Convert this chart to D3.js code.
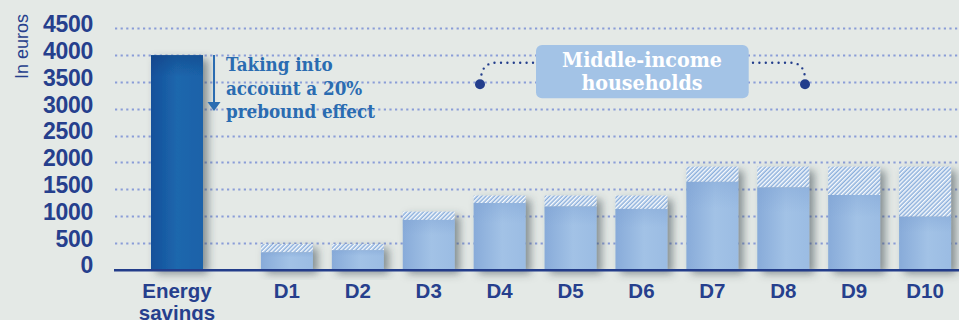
<!DOCTYPE html>
<html>
<head>
<meta charset="utf-8">
<script src="https://cdn.jsdelivr.net/npm/d3@7"></script>
<style>
  html, body { margin: 0; padding: 0; background: #e4e9e6; }
  svg { display: block; }
</style>
</head>
<body>
<svg id="chart" width="959" height="320"></svg>
<script>
// ---- data ----
const categories = ["D1", "D2", "D3", "D4", "D5", "D6", "D7", "D8", "D9", "D10"];
const savingsWithPrebound = [320, 360, 925, 1240, 1175, 1130, 1635, 1530, 1390, 985];
const savingsTotal = [475, 475, 1080, 1380, 1380, 1380, 1920, 1920, 1920, 1920];
const energyLabel = ["Energy", "savings"];
const energySavings = [4000];
const yTickValues = [0, 500, 1000, 1500, 2000, 2500, 3000, 3500, 4000, 4500];
const yAxisTitle = "In euros";
const noteLines = ["Taking into", "account a 20%", "prebound effect"];
const groupLines = ["Middle-income", "households"];

// ---- setup ----
const svg = d3.select("#chart");
const W = 959, H = 320;
const navy = "#263f8d";

svg.append("rect").attr("width", W).attr("height", H).attr("fill", "#e4e9e6");

const defs = svg.append("defs");
const gLight = defs.append("linearGradient").attr("id", "gLight").attr("x1", 0).attr("x2", 1).attr("y1", 0).attr("y2", 0);
gLight.append("stop").attr("offset", "0%").attr("stop-color", "#88abd9");
gLight.append("stop").attr("offset", "55%").attr("stop-color", "#a2c2e6");
gLight.append("stop").attr("offset", "100%").attr("stop-color", "#9bbce3");
const gLightV = defs.append("linearGradient").attr("id", "gLightV").attr("x1", 0).attr("x2", 0).attr("y1", 0).attr("y2", 1);
gLightV.append("stop").attr("offset", "0%").attr("stop-color", "#7fa3d4").attr("stop-opacity", 0.4);
gLightV.append("stop").attr("offset", "30%").attr("stop-color", "#7fa3d4").attr("stop-opacity", 0);

const gDark = defs.append("linearGradient").attr("id", "gDark").attr("x1", 0).attr("x2", 1).attr("y1", 0).attr("y2", 0);
gDark.append("stop").attr("offset", "0%").attr("stop-color", "#14509a");
gDark.append("stop").attr("offset", "50%").attr("stop-color", "#1d67ad");
gDark.append("stop").attr("offset", "100%").attr("stop-color", "#1a62a9");
const gDarkV = defs.append("linearGradient").attr("id", "gDarkV").attr("x1", 0).attr("x2", 0).attr("y1", 0).attr("y2", 1);
gDarkV.append("stop").attr("offset", "0%").attr("stop-color", "#0f3f80").attr("stop-opacity", 0.5);
gDarkV.append("stop").attr("offset", "10%").attr("stop-color", "#0f3f80").attr("stop-opacity", 0);

const pat = defs.append("pattern").attr("id", "hatch").attr("patternUnits", "userSpaceOnUse")
  .attr("width", 3).attr("height", 3).attr("patternTransform", "rotate(45)");
pat.append("rect").attr("width", 3).attr("height", 3).attr("fill", "#8bafdc");
pat.append("line").attr("x1", 0.75).attr("y1", 0).attr("x2", 0.75).attr("y2", 3)
  .attr("stroke", "#ffffff").attr("stroke-width", 1.4);

const shadow = defs.append("filter").attr("id", "shadow").attr("x", "-30%").attr("y", "-30%").attr("width", "170%").attr("height", "170%");
shadow.append("feDropShadow").attr("dx", 5).attr("dy", 4).attr("stdDeviation", 4.5)
  .attr("flood-color", "#38424c").attr("flood-opacity", 0.55);

// ---- scales ----
const y = d3.scaleLinear().domain([0, 4500]).range([269.5, 28.3]);
const x = d3.scaleBand().domain(categories).range([242, 970]).padding(0.267);
const xE = d3.scaleBand().domain(["Energy savings"]).range([151, 203]).padding(0);

// ---- gridlines ----
svg.append("g").selectAll("line").data(yTickValues.filter(d => d > 0)).join("line")
  .attr("x1", 115).attr("x2", W)
  .attr("y1", d => Math.round(y(d)) + 0.5).attr("y2", d => Math.round(y(d)) + 0.5)
  .attr("stroke", "#8a9dd8").attr("stroke-width", 2.2)
  .attr("stroke-dasharray", "2.2 3.4");

// ---- y axis ----
const yAxis = svg.append("g").attr("transform", "translate(93,0)")
  .call(d3.axisLeft(y).tickValues(yTickValues).tickSize(0).tickPadding(0).tickFormat(d3.format("d")));
yAxis.select(".domain").remove();
yAxis.selectAll("text")
  .attr("dy", "0.15em")
  .attr("fill", navy)
  .style("font-family", "'Liberation Sans', Arial, sans-serif")
  .style("font-weight", "bold")
  .style("font-size", "23px")
  .style("letter-spacing", "-0.3px");

svg.append("text")
  .attr("transform", `translate(28,${46.5}) rotate(-90)`)
  .attr("text-anchor", "middle")
  .attr("fill", navy)
  .style("font-family", "'Liberation Sans', Arial, sans-serif")
  .style("font-size", "18px")
  .text(yAxisTitle);

// ---- energy savings bar ----
const eBar = svg.append("g").selectAll("g").data(energySavings).join("g").attr("filter", "url(#shadow)");
eBar.append("rect")
  .attr("x", xE("Energy savings")).attr("width", xE.bandwidth())
  .attr("y", d => y(d)).attr("height", d => y(0) - y(d))
  .attr("fill", "url(#gDark)");
eBar.append("rect")
  .attr("x", xE("Energy savings")).attr("width", xE.bandwidth())
  .attr("y", d => y(d)).attr("height", d => y(0) - y(d))
  .attr("fill", "url(#gDarkV)");

// ---- decile bars ----
const bars = svg.append("g").selectAll("g").data(categories).join("g").attr("filter", "url(#shadow)");
bars.append("rect")
  .attr("x", d => x(d)).attr("width", x.bandwidth())
  .attr("y", (d, i) => y(savingsTotal[i])).attr("height", (d, i) => y(savingsWithPrebound[i]) - y(savingsTotal[i]))
  .attr("fill", "url(#hatch)");
bars.append("rect")
  .attr("x", d => x(d)).attr("width", x.bandwidth())
  .attr("y", (d, i) => y(savingsWithPrebound[i])).attr("height", (d, i) => y(0) - y(savingsWithPrebound[i]))
  .attr("fill", "url(#gLight)");
bars.append("rect")
  .attr("x", d => x(d)).attr("width", x.bandwidth())
  .attr("y", (d, i) => y(savingsWithPrebound[i])).attr("height", (d, i) => y(0) - y(savingsWithPrebound[i]))
  .attr("fill", "url(#gLightV)");

// ---- baseline ----
svg.append("line").attr("x1", 114).attr("x2", W).attr("y1", y(0) + 0.8).attr("y2", y(0) + 0.8)
  .attr("stroke", "#233d8a").attr("stroke-width", 2.6);

// ---- x axis labels ----
const xAxis = svg.append("g").attr("transform", `translate(0,${y(0)})`)
  .call(d3.axisBottom(x).tickSize(0).tickPadding(0));
xAxis.select(".domain").remove();
xAxis.selectAll("text")
  .attr("y", 28).attr("dy", 0)
  .attr("fill", navy)
  .style("font-family", "'Liberation Sans', Arial, sans-serif")
  .style("font-weight", "bold")
  .style("font-size", "20.5px");

const eLab = svg.append("text")
  .attr("text-anchor", "middle")
  .attr("fill", navy)
  .style("font-family", "'Liberation Sans', Arial, sans-serif")
  .style("font-weight", "bold")
  .style("font-size", "20.5px");
eLab.selectAll("tspan").data(energyLabel).join("tspan")
  .attr("x", xE("Energy savings") + xE.bandwidth() / 2)
  .attr("y", (d, i) => y(0) + 28 + i * 22.5)
  .text(d => d);

// ---- helper to fit text width ----
function fitWidth(sel, target) {
  const w = sel.node().getComputedTextLength();
  const fs = parseFloat(sel.style("font-size"));
  if (w > 0) sel.style("font-size", (fs * target / w) + "px");
}

// ---- prebound annotation ----
const noteColor = "#2a6cb1";
svg.append("line").attr("x1", 214).attr("x2", 214).attr("y1", 55).attr("y2", 104)
  .attr("stroke", noteColor).attr("stroke-width", 2);
svg.append("path").attr("d", "M207.5,102 L220.5,102 L214,111 Z").attr("fill", noteColor);

const noteG = svg.append("g");
noteLines.forEach((t, i) => {
  noteG.append("text")
    .attr("x", 226).attr("y", 70.7 + i * 23.8)
    .attr("fill", noteColor)
    .style("font-family", "'DejaVu Serif', serif")
    .style("font-stretch", "condensed")
    .style("font-weight", "bold")
    .style("font-size", "16px")
    .text(t);
});
fitWidth(noteG.selectAll("text").filter((d, i) => i === 2), 149);
const noteFs = noteG.selectAll("text").filter((d, i) => i === 2).style("font-size");
noteG.selectAll("text").style("font-size", noteFs);

// ---- middle-income bracket ----
const dotColor = "#233e8c";
svg.append("path")
  .attr("d", "M533,62.7 L496,62.7 Q482,63 481,78")
  .attr("fill", "none").attr("stroke", dotColor).attr("stroke-width", 2.4)
  .attr("stroke-linecap", "round").attr("stroke-dasharray", "0 6.4");
svg.append("path")
  .attr("d", "M753,62.7 L791,62.7 Q804,63 805,78")
  .attr("fill", "none").attr("stroke", dotColor).attr("stroke-width", 2.4)
  .attr("stroke-linecap", "round").attr("stroke-dasharray", "0 6.4");
svg.append("circle").attr("cx", 480).attr("cy", 84.3).attr("r", 5).attr("fill", dotColor);
svg.append("circle").attr("cx", 805).attr("cy", 84.3).attr("r", 5).attr("fill", dotColor);

svg.append("rect").attr("x", 536).attr("y", 45).attr("width", 212.7).attr("height", 53.3)
  .attr("rx", 6).attr("fill", "#a3c3e6");
const grpG = svg.append("g");
groupLines.forEach((t, i) => {
  grpG.append("text")
    .attr("x", 642).attr("y", 66.7 + i * 23.5)
    .attr("text-anchor", "middle")
    .attr("fill", "#ffffff")
    .style("font-family", "'DejaVu Serif', serif")
    .style("font-stretch", "condensed")
    .style("font-weight", "bold")
    .style("font-size", "18px")
    .text(t);
});
fitWidth(grpG.select("text"), 160);
const grpFs = grpG.select("text").style("font-size");
grpG.selectAll("text").style("font-size", grpFs);
</script>
</body>
</html>
